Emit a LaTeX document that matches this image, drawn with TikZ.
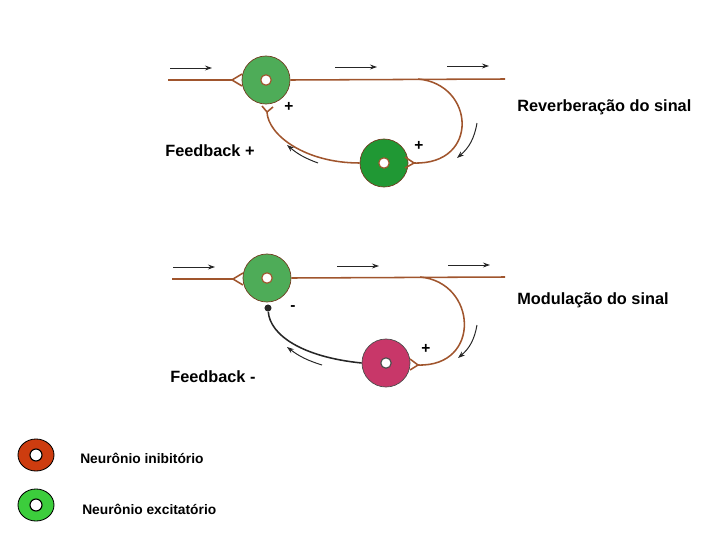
\documentclass[tikz,border=0pt]{standalone}
\usepackage{fontspec}
\setmainfont{Liberation Sans}
\usepackage{tikz}
\usetikzlibrary{arrows.meta,positioning,calc,shapes.geometric}
\definecolor{axon}{RGB}{160,85,45}
\definecolor{exA}{RGB}{78,172,88}
\definecolor{exB}{RGB}{32,152,52}
\definecolor{modP}{RGB}{200,55,105}
\definecolor{inhib}{RGB}{205,60,15}
\definecolor{exLeg}{RGB}{60,205,60}

\begin{document}
\begin{tikzpicture}[
  x=0.025cm,y=-0.025cm,
  >={Stealth[length=5pt,width=3.5pt]},
  ax/.style={draw=axon,line width=1.1pt},
  sig/.style={->,line width=0.7pt,black!85},
  nrn/.style={circle,draw=axon!70!black,line width=0.5pt,minimum size=1.2cm,inner sep=0pt},
  hole/.style={circle,draw=axon,fill=white,line width=0.8pt,minimum size=0.26cm,inner sep=0pt},
  leg/.style={ellipse,draw=black,line width=0.6pt,minimum width=0.9cm,minimum height=0.8cm,inner sep=0pt},
  dot/.style={circle,fill=black!85,inner sep=0pt,minimum size=5pt},
  lab/.style={font=\fontsize{11.6}{14}\selectfont\bfseries,anchor=west,inner sep=0pt},
  sgn/.style={font=\fontsize{11}{13}\selectfont\bfseries}
]
  \useasboundingbox (0,0) rectangle (728,546);

  % Reverberation panel
  \node[nrn,fill=exA] (n1) at (266,80) {};
  \node[hole] (h1) at (n1) {};
  \node[nrn,fill=exB] (n2) at (384,163) {};
  \node[hole] (h2) at (n2) {};
  \coordinate (in1) at (168,80);
  \coordinate (f1) at (232,80);
  \coordinate (out1) at (505,79);
  \coordinate (b1) at (418,79);
  \coordinate (f2) at (414,163);
  \coordinate (f3) at (267,112);
  \draw[ax] (in1) -- (f1) -- ++(10,-6) (f1) -- ++(10,6);
  \draw[ax] (n1.east) -- (out1);
  \draw[ax] (b1) .. controls (475,84) and (480,165) .. (f2) -- ++(-9,-6) (f2) -- ++(-9,5);
  \draw[ax] (n2.west) .. controls (305,163) and (268,135) .. (f3) -- ++(-5,-6) (f3) -- ++(6,-5);
  \coordinate (t1) at (170,68);
  \coordinate (t2) at (335,67);
  \coordinate (t3) at (447,66);
  \foreach \t in {t1,t2,t3} {
    \draw[sig] (\t) -- ++(42,0);
  }
  \coordinate (c1) at (477,123);
  \coordinate (c2) at (318,163);
  \draw[sig] (c1) to[bend left=20] ++(-20,35);
  \draw[sig] (c2) to[bend left=10] ++(-31,-18);
  \node[sgn] (p1) at (289,107) {+};
  \node[sgn] (p2) at (419,146) {+};
  \node[lab] (fb1) at (165,151) {Feedback +};
  \node[lab] (rv) at (517,107) {Reverberação do sinal};

  % Modulation panel
  \node[nrn,fill=exA] (n3) at (267,278) {};
  \node[hole] (h3) at (n3) {};
  \node[nrn,fill=modP,draw=black!70] (n4) at (386,363) {};
  \node[hole,draw=black!70] (h4) at (n4) {};
  \coordinate (in2) at (172,279);
  \coordinate (f4) at (233,279);
  \coordinate (out2) at (505,277);
  \coordinate (b2) at (420,277);
  \coordinate (f5) at (418,365);
  \node[dot] (d1) at (268,308) {};
  \draw[ax] (in2) -- (f4) -- ++(10,-6) (f4) -- ++(10,6);
  \draw[ax] (n3.east) -- (out2);
  \draw[ax] (b2) .. controls (477,282) and (482,367) .. (f5) -- ++(-8,-6) (f5) -- ++(-8,5);
  \draw[line width=1.1pt,black!85] (n4.west) .. controls (302,357) and (270,335) .. (d1);
  \coordinate (t4) at (173,267);
  \coordinate (t5) at (337,266);
  \coordinate (t6) at (448,265);
  \foreach \t in {t4,t5,t6} {
    \draw[sig] (\t) -- ++(42,0);
  }
  \coordinate (c3) at (477,325);
  \coordinate (c4) at (322,365);
  \draw[sig] (c3) to[bend left=20] ++(-19,33);
  \draw[sig] (c4) to[bend left=10] ++(-35,-18);
  \node[sgn] (m1) at (293,308) {-};
  \node[sgn] (p3) at (426,349) {+};
  \node[lab] (fb2) at (170,377) {Feedback -};
  \node[lab] (md) at (517,300) {Modulação do sinal};

  % Legend
  \node[leg,fill=inhib] (l1) at (36,455) {};
  \node[hole,draw=black,minimum size=0.3cm] (lh1) at (l1) {};
  \node[leg,fill=exLeg] (l2) at (36,505) {};
  \node[hole,draw=black,minimum size=0.3cm] (lh2) at (l2) {};
  \node[lab,font=\fontsize{9.8}{12}\selectfont\bfseries] (lt1) at (80,458) {Neurônio inibitório};
  \node[lab,font=\fontsize{9.8}{12}\selectfont\bfseries] (lt2) at (82,509) {Neurônio excitatório};
\end{tikzpicture}
\end{document}
